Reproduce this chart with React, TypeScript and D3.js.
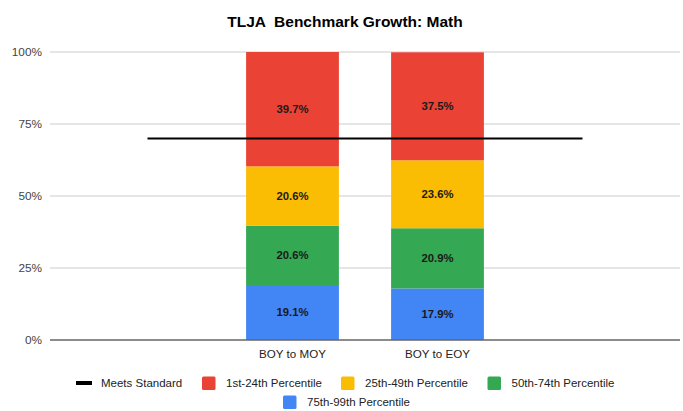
import React from "react";
import * as d3 from "d3";

const TITLE = "TLJA  Benchmark Growth: Math";
const categories = ["", "BOY to MOY", "BOY to EOY", ""];
const seriesNames = ["75th-99th Percentile", "50th-74th Percentile", "25th-49th Percentile", "1st-24th Percentile"];
const seriesColors = ["#4285F4", "#34A853", "#FBBC04", "#EA4335"];
// values per series, per category (null = empty category)
const p75_99 = [null, 19.1, 17.9, null];
const p50_74 = [null, 20.6, 20.9, null];
const p25_49 = [null, 20.6, 23.6, null];
const p1_24 = [null, 39.7, 37.5, null];
const meetsStandard = [70, 70, 70, 70];
const yTicks = [0, 25, 50, 75, 100];

const legendItems = [
  { name: "Meets Standard", color: "#000000", kind: "line" },
  { name: "1st-24th Percentile", color: "#EA4335", kind: "box" },
  { name: "25th-49th Percentile", color: "#FBBC04", kind: "box" },
  { name: "50th-74th Percentile", color: "#34A853", kind: "box" },
  { name: "75th-99th Percentile", color: "#4285F4", kind: "box" },
];
const legendPos = [
  [76, 383], [202, 383], [341, 383], [487.5, 383], [283, 402],
];

const W = 683, H = 411;
const FONT = "'Liberation Sans', Arial, sans-serif";

export default function App() {
  const x = d3.scaleBand<number>().domain(d3.range(categories.length)).range([50, 680]).paddingInner(0.36).paddingOuter(0.3525);
  const y = d3.scaleLinear().domain([0, 100]).range([340, 52]);
  const series = [p75_99, p50_74, p25_49, p1_24];
  const rows = categories.map((c, i) => {
    const r: any = { i };
    seriesNames.forEach((s, k) => (r[s] = series[k][i] ?? 0));
    return r;
  });
  const stack = d3.stack<any>().keys(seriesNames)(rows);
  const line = d3.line<number>().x((_, i) => (x(i) as number) + x.bandwidth() / 2).y((d) => y(d));

  return (
    <svg width={W} height={H} style={{ position: "absolute", left: 0, top: 0, background: "#fff" }} fontFamily={FONT}>
      <rect width={W} height={H} fill="#fff" />
      <text x={345} y={26.5} textAnchor="middle" fontSize={15.5} fontWeight="bold" fill="#000" style={{ whiteSpace: "pre" }} xmlSpace="preserve">{TITLE}</text>
      {yTicks.map((t) => (
        <g key={t}>
          {t !== 0 && <line x1={50} x2={680} y1={y(t)} y2={y(t)} stroke="#cccccc" strokeWidth={1} />}
          <text x={42} y={y(t) + 4} textAnchor="end" fontSize={11.8} fill="#444">{t}%</text>
        </g>
      ))}
      {stack.map((layer, k) => (
        <g key={layer.key} fill={seriesColors[k]}>
          {layer.map((d, i) =>
            series[k][i] == null ? null : (
              <rect key={i} x={x(i)} width={x.bandwidth()} y={y(d[1])} height={y(d[0]) - y(d[1])} />
            )
          )}
        </g>
      ))}
      <line x1={50} x2={680} y1={y(0)} y2={y(0)} stroke="#666" strokeWidth={1.5} />
      {stack.map((layer, k) => (
        <g key={"l" + layer.key}>
          {layer.map((d, i) =>
            series[k][i] == null ? null : (
              <text key={i} x={(x(i) as number) + x.bandwidth() / 2} y={(y(d[0]) + y(d[1])) / 2 + 4} textAnchor="middle" fontSize={11.3} fontWeight="bold" fill="#1a1a1a">
                {(series[k][i] as number).toFixed(1)}%
              </text>
            )
          )}
        </g>
      ))}
      <path d={line(meetsStandard) || ""} fill="none" stroke="#000" strokeWidth={2} />
      {categories.map((c, i) => (
        <text key={i} x={(x(i) as number) + x.bandwidth() / 2} y={358} textAnchor="middle" fontSize={11.6} fill="#222">{c}</text>
      ))}
      {legendItems.map((it, i) => {
        const [lx, ly] = legendPos[i];
        return (
          <g key={it.name}>
            {it.kind === "line" ? (
              <rect x={lx} y={ly - 2} width={16} height={4} fill={it.color} />
            ) : (
              <rect x={lx} y={ly - 6.5} width={13.5} height={13.5} rx={1.5} fill={it.color} />
            )}
            <text x={lx + (it.kind === "line" ? 25 : 24)} y={ly + 4.2} fontSize={11.5} fill="#222">{it.name}</text>
          </g>
        );
      })}
    </svg>
  );
}
